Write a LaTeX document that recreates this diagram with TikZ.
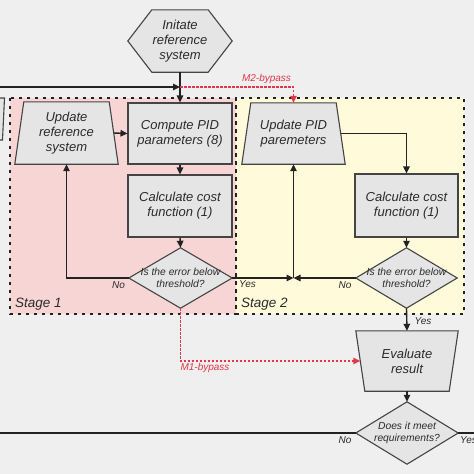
\documentclass[tikz,border=0pt]{standalone}
\usepackage{fontspec}
\setmainfont{Liberation Sans}
\usetikzlibrary{arrows.meta,calc}
\definecolor{bgc}{HTML}{EFEFEF}
\definecolor{boxc}{HTML}{E5E5E5}
\definecolor{bordc}{HTML}{444444}
\definecolor{pinkc}{HTML}{F8D5D5}
\definecolor{yelc}{HTML}{FFFBDA}
\definecolor{redc}{HTML}{E0384A}
\definecolor{txtc}{HTML}{2B2B2B}
\definecolor{linec}{HTML}{222222}
\pgfdeclarelayer{back}
\pgfdeclarelayer{mid}
\pgfsetlayers{back,mid,main}
\begin{document}
\begin{tikzpicture}[x=1pt,y=-1pt,
  txt/.style={font=\itshape\fontsize{13}{15}\selectfont, text=txtc, align=center, inner sep=0pt},
  dtxt/.style={font=\itshape\fontsize{10.3}{11.5}\selectfont, text=txtc, align=center, inner sep=0pt},
  lbl/.style={font=\itshape\fontsize{10}{12}\selectfont, text=txtc, inner sep=0pt},
  rlbl/.style={font=\itshape\fontsize{10}{12}\selectfont, text=redc, inner sep=0pt},
  stagelbl/.style={font=\itshape\fontsize{13.5}{15}\selectfont, text=txtc, inner sep=0pt, anchor=west},
  boxn/.style={txt, draw=bordc, fill=boxc, line width=1.1pt, rectangle},
  shp/.style={draw=bordc, fill=boxc, line width=1.1pt, line join=miter},
  arr/.style={draw=linec, line width=1.4pt, -{Triangle[length=7pt,width=6.5pt]}},
  plain/.style={draw=linec, line width=1.4pt},
  rarr/.style={draw=redc, line width=1.4pt, dash pattern=on 2.5pt off 1.5pt, -{Triangle[length=7pt,width=6.5pt]}},
  stageb/.style={draw=linec, line width=2.6pt, dash pattern=on 2.6pt off 5.4pt}
]
\useasboundingbox (0,0) rectangle (474,474);

% nodes
\node[txt, minimum width=104pt, minimum height=62pt] (init) at (180,41) {Initate\\reference\\system};
\node[txt, minimum width=103pt, minimum height=62pt] (uref) at (66.5,133) {Update\\reference\\system};
\node[boxn, minimum width=104pt, minimum height=61pt] (cpid) at (180,133.5) {Compute PID\\parameters (8)};
\node[boxn, minimum width=104pt, minimum height=62pt] (cost1) at (180,206) {Calculate cost\\function (1)};
\node[dtxt, minimum width=103pt, minimum height=60pt] (dec1) at (180.5,278) {Is the error below\\threshold?};
\node[txt, minimum width=103pt, minimum height=61pt] (upid) at (293.5,133.5) {Update PID\\paremeters};
\node[boxn, minimum width=103pt, minimum height=63pt] (cost2) at (406.5,205.5) {Calculate cost\\function (1)};
\node[dtxt, minimum width=101pt, minimum height=60pt] (dec2) at (406.5,278) {Is the error below\\threshold?};
\node[txt, minimum width=102pt, minimum height=60pt] (eval) at (407,361) {Evaluate\\result};
\node[dtxt, minimum width=102pt, minimum height=62pt] (dec3) at (407,433) {Does it meet\\requirements?};

\coordinate (lin) at (0,87);
\coordinate (j0) at (180,87);
\coordinate (jn) at (293.5,278);
\coordinate (lout) at (0,433);
\coordinate (rout) at (474,433);

% background, stages
\begin{pgfonlayer}{back}
\fill[bgc] (0,0) rectangle (474,474);
\fill[pinkc] (10,98) rectangle (236,314);
\fill[yelc] (236,98) rectangle (464,314);
\draw[stageb] (10,98) rectangle (236,314);
\draw[stageb] (236,98) rectangle (464,314);
\end{pgfonlayer}

% shapes
\begin{pgfonlayer}{mid}
\path[shp] (-20,98) -- (4.5,98) -- (2.5,140) -- (-20,140) -- cycle;
\path[shp] (init.west) -- ($(init.north west)+(24,0)$) -- ($(init.north east)+(-24,0)$) -- (init.east) -- ($(init.south east)+(-24,0)$) -- ($(init.south west)+(24,0)$) -- cycle;
\path[shp] ($(uref.north west)+(9,0)$) -- ($(uref.north east)+(-9,0)$) -- (uref.south east) -- (uref.south west) -- cycle;
\path[shp] ($(upid.north west)+(9,0)$) -- ($(upid.north east)+(-9,0)$) -- (upid.south east) -- (upid.south west) -- cycle;
\path[shp] (eval.north west) -- (eval.north east) -- ($(eval.south east)+(-9,0)$) -- ($(eval.south west)+(9,0)$) -- cycle;
\path[shp] (dec1.north) -- (dec1.east) -- (dec1.south) -- (dec1.west) -- cycle;
\path[shp] (dec2.north) -- (dec2.east) -- (dec2.south) -- (dec2.west) -- cycle;
\path[shp] (dec3.north) -- (dec3.east) -- (dec3.south) -- (dec3.west) -- cycle;
\end{pgfonlayer}

% connectors
\draw[arr] (lin) -- (j0);
\draw[arr] (init.south) -- (cpid.north);
\draw[arr] ([xshift=-4.5pt]uref.east) -- (cpid.west);
\draw[arr] (cpid.south) -- (cost1.north);
\draw[arr] (cost1.south) -- (dec1.north);
\draw[arr] (dec1.west) -| (uref.south);
\draw[arr] (dec1.east) -- (jn);
\draw[arr] (dec2.west) -- (jn);
\draw[arr] (jn) -- (upid.south);
\draw[arr] ([xshift=-4.5pt]upid.east) -| (cost2.north);
\draw[arr] (cost2.south) -- (dec2.north);
\draw[arr] (dec2.south) -- (eval.north);
\draw[arr] (eval.south) -- (dec3.north);
\draw[plain] (dec3.west) -- (lout);
\draw[plain] (dec3.east) -- (rout);
\draw[rarr] (j0) -| (upid.north);
\draw[rarr] (dec1.south) |- ([xshift=4.5pt]eval.west);

% labels
\node[lbl] (no1) at (118.5,285) {No};
\node[lbl] (yes1) at (247.5,284) {Yes};
\node[lbl] (no2) at (345,285) {No};
\node[lbl] (yes2) at (423,321) {Yes};
\node[lbl] (no3) at (345,440) {No};
\node[lbl, anchor=west] (yes3) at (460,440) {Yes};
\node[stagelbl] (st1) at (15,304) {Stage 1};
\node[stagelbl] (st2) at (241,304) {Stage 2};
\node[rlbl] (m2) at (266.5,79) {M2-bypass};
\node[rlbl] (m1) at (205,368) {M1-bypass};
\end{tikzpicture}
\end{document}
